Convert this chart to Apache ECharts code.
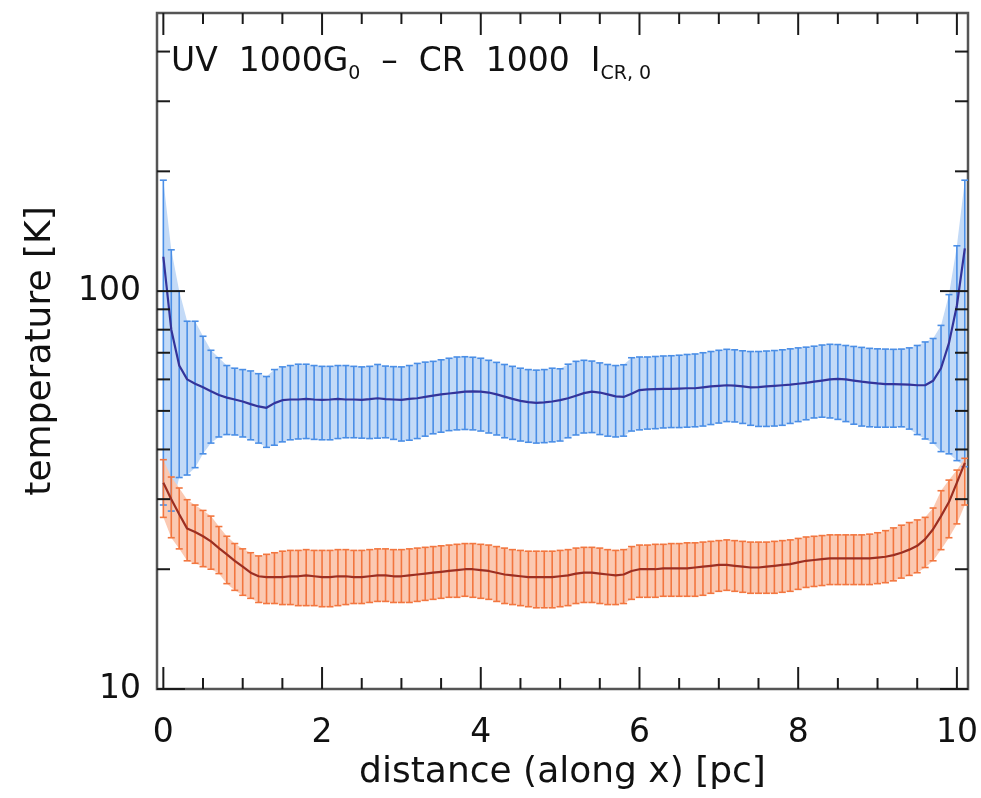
<!DOCTYPE html>
<html><head><meta charset="utf-8">
<script src="https://cdn.jsdelivr.net/npm/echarts@6/dist/echarts.min.js"></script>
<style>html,body{margin:0;padding:0;background:#fff}#c{width:981px;height:798px}</style>
</head><body><div id="c"></div><script>
// distance along x [pc]
const distance = [0,0.1,0.2,0.3,0.4,0.5,0.6,0.7,0.8,0.9,
1,1.1,1.2,1.3,1.4,1.5,1.6,1.7,1.8,1.9,
2,2.1,2.2,2.3,2.4,2.5,2.6,2.7,2.8,2.9,
3,3.1,3.2,3.3,3.4,3.5,3.6,3.7,3.8,3.9,
4,4.1,4.2,4.3,4.4,4.5,4.6,4.7,4.8,4.9,
5,5.1,5.2,5.3,5.4,5.5,5.6,5.7,5.8,5.9,
6,6.1,6.2,6.3,6.4,6.5,6.6,6.7,6.8,6.9,
7,7.1,7.2,7.3,7.4,7.5,7.6,7.7,7.8,7.9,
8,8.1,8.2,8.3,8.4,8.5,8.6,8.7,8.8,8.9,
9,9.1,9.2,9.3,9.4,9.5,9.6,9.7,9.8,9.9,
10,10.1];

// blue (upper) profile: mean, upper and lower error bar ends [K]
const blueMean = [122,80,65,60,58.5,57.3,56,54.8,54,53.4,
52.8,52,51.3,50.9,52.3,53.2,53.4,53.4,53.6,53.4,
53.3,53.4,53.6,53.4,53.4,53.3,53.5,53.8,53.5,53.4,
53.3,53.6,53.8,54.2,54.6,55,55.3,55.6,55.9,56,
55.9,55.6,55,54.3,53.6,53,52.6,52.4,52.5,52.8,
53.2,53.8,54.6,55.4,55.9,55.6,55,54.4,54.2,55.2,
56.4,56.6,56.7,56.8,56.8,56.9,57,57,57.3,57.6,
57.8,58,57.9,57.6,57.3,57.4,57.6,57.8,58,58.2,
58.5,58.8,59.2,59.6,60,60.2,60,59.6,59.2,58.9,
58.6,58.4,58.4,58.3,58.2,58,58,59.5,64,74,
92,128];
const blueUpper = [190,127,100,84,84,77,71,68,65,64,
63.5,63,62,61,63.5,64.5,65,65.5,65.5,65,
64.7,64.7,65,65,64.7,64.5,64.7,65.4,64.8,64.6,
64.5,65,65.8,66.3,66.6,67.2,67.8,68.3,68.4,68.2,
67.8,67,66.2,65.4,64.7,64,63.5,63.3,63.5,64,
63.8,65.5,66.6,67,66.7,66,65.4,65,65.3,68,
68.3,68.3,68.5,68.7,68.8,69,69.3,69.5,70,70.5,
71,71.4,71.2,70.8,70.5,70.5,70.7,70.9,71.2,71.6,
72,72.3,72.7,73.2,73.5,73.4,73,72.6,72.2,71.8,
71.6,71.5,71.4,71.5,72,73,74.5,76,82,98,
130,190];
const blueLower = [29,28,34,34.5,36,39,41.5,43,43.6,43.5,
43,42.3,41.5,40.5,41,41.8,42.3,42.5,42.6,42.4,
42.3,42.3,42.6,42.8,42.8,42.7,42.6,42.7,42.8,42.4,
42,42.2,42.6,43.2,43.8,44.2,44.6,44.8,44.9,44.8,
44.5,44,43.5,42.8,42.4,42,41.7,41.5,41.6,41.8,
42,42.8,43.5,44,44.1,43.6,43.2,43,43.2,44.5,
44.8,45,45.1,45.3,45.4,45.4,45.5,45.6,45.8,46.2,
46.6,47,46.9,46.5,46,45.7,45.7,45.8,46,46.5,
47,47.5,48,48.2,48,47.6,47,46.3,45.8,45.6,
45.5,45.5,45.5,45.6,45,43.6,42.5,41.5,39.5,39,
37.5,36.2];

// orange (lower) profile
const orangeMean = [33,30,27.5,25.3,24.8,24.2,23.5,22.6,21.8,21,
20.3,19.6,19.2,19.1,19.1,19.1,19.2,19.2,19.3,19.2,
19.1,19.1,19.2,19.2,19.1,19.1,19.2,19.3,19.3,19.2,
19.2,19.3,19.4,19.5,19.6,19.7,19.8,19.9,20,20,
19.9,19.8,19.6,19.4,19.3,19.2,19.1,19.1,19.1,19.1,
19.2,19.3,19.5,19.6,19.6,19.5,19.4,19.3,19.4,19.8,
20,20,20,20.1,20.1,20.1,20.1,20.2,20.3,20.4,
20.5,20.5,20.4,20.3,20.2,20.2,20.3,20.4,20.5,20.6,
20.8,21,21.1,21.2,21.3,21.3,21.3,21.3,21.3,21.3,
21.4,21.5,21.7,22,22.4,22.9,23.8,25.2,27.2,29.5,
33,37];
const orangeUpper = [37.7,34.1,32,29.9,29,28.1,27.2,25.6,24.2,23.2,
22.5,22,21.6,21.8,22,22.2,22.3,22.3,22.4,22.3,
22.3,22.3,22.4,22.4,22.3,22.3,22.4,22.5,22.5,22.4,
22.4,22.5,22.6,22.7,22.8,22.9,23,23.1,23.2,23.2,
23.1,23,22.8,22.6,22.4,22.3,22.2,22.2,22.2,22.2,
22.3,22.4,22.6,22.7,22.7,22.6,22.4,22.3,22.4,22.8,
23,23,23.1,23.1,23.2,23.2,23.3,23.3,23.4,23.5,
23.6,23.7,23.6,23.5,23.4,23.4,23.4,23.5,23.6,23.7,
23.9,24.1,24.2,24.3,24.4,24.4,24.4,24.4,24.4,24.5,
24.7,25,25.4,25.8,26.2,26.6,27,28.5,31.5,33.5,
35.5,38];
const orangeLower = [27,24,22.5,21,20.7,20.3,20,19.5,18.4,17.7,
17.2,16.9,16.5,16.4,16.4,16.3,16.3,16.2,16.2,16.2,
16.1,16.1,16.2,16.3,16.4,16.4,16.5,16.6,16.6,16.5,
16.5,16.5,16.6,16.7,16.8,16.9,17,17,17.1,17,
16.9,16.8,16.6,16.4,16.3,16.2,16.1,16,16,16,
16.1,16.2,16.4,16.5,16.5,16.4,16.3,16.3,16.4,16.8,
17,17,17,17.1,17.1,17.1,17.1,17.1,17.2,17.4,
17.6,17.7,17.6,17.5,17.4,17.4,17.4,17.4,17.5,17.6,
17.8,18,18.1,18.2,18.3,18.3,18.3,18.3,18.3,18.3,
18.4,18.5,18.7,19,19.3,19.6,20.2,21,22.4,24,
26,29];

// ticks
const xMajorTicks = [0,2,4,6,8,10];
const xMinorTicks = [0.5,1,1.5,2.5,3,3.5,4.5,5,5.5,6.5,7,7.5,8.5,9,9.5];
const yMajorTicks = [10,100];
const yMinorTicks = [20,30,40,50,60,70,80,90,200,300,400];

const FONT = 'DejaVu Sans';
const chart = echarts.init(document.getElementById('c'), null, {renderer:'canvas'});

function bandSeries(lower, upper, color){
  return {type:'custom', silent:true, z:1, clip:true,
    data: distance.map((x,i)=>[x, lower[i], upper[i]]),
    encode:{x:0, y:[1,2]},
    renderItem(params, api){
      if (params.dataIndex !== 0) return null;
      const pts = [];
      for (let i=0;i<distance.length;i++) pts.push(api.coord([distance[i], upper[i]]));
      for (let i=distance.length-1;i>=0;i--) pts.push(api.coord([distance[i], lower[i]]));
      return {type:'polygon', shape:{points:pts}, style:{fill:color}};
    }};
}
function errSeries(lower, upper, color){
  return {type:'custom', silent:true, z:2, clip:true,
    data: distance.map((x,i)=>[x, lower[i], upper[i]]),
    encode:{x:0, y:[1,2]},
    renderItem(params, api){
      const x = api.value(0);
      const lo = api.coord([x, api.value(1)]);
      const hi = api.coord([x, api.value(2)]);
      const w = 3.5, st = {stroke:color, lineWidth:1.6};
      return {type:'group', children:[
        {type:'line', shape:{x1:lo[0],y1:lo[1],x2:hi[0],y2:hi[1]}, style:st},
        {type:'line', shape:{x1:hi[0]-w,y1:hi[1],x2:hi[0]+w,y2:hi[1]}, style:st},
        {type:'line', shape:{x1:lo[0]-w,y1:lo[1],x2:lo[0]+w,y2:lo[1]}, style:st}
      ]};
    }};
}
function tickSeries(vals, axis, len){
  return {type:'custom', silent:true, z:10, clip:false,
    data: vals.map(v => axis==='x' ? [v, 100] : [1, v]),
    renderItem(params, api){
      const cs = params.coordSys;
      const p = api.coord([api.value(0), api.value(1)]);
      const st = {stroke:'#1a1a1a', lineWidth:2};
      if (axis==='x') {
        const b = cs.y + cs.height, t = cs.y;
        return {type:'group', children:[
          {type:'line', shape:{x1:p[0],y1:b,x2:p[0],y2:b-len}, style:st},
          {type:'line', shape:{x1:p[0],y1:t,x2:p[0],y2:t+len}, style:st}]};
      }
      const l = cs.x, r = cs.x + cs.width;
      return {type:'group', children:[
        {type:'line', shape:{x1:l,y1:p[1],x2:l+len,y2:p[1]}, style:st},
        {type:'line', shape:{x1:r,y1:p[1],x2:r-len,y2:p[1]}, style:st}]};
    }};
}
function meanSeries(vals, color){
  return {type:'line', z:3, showSymbol:false, silent:true, animation:false,
    data: distance.map((x,i)=>[x, vals[i]]),
    lineStyle:{color:color, width:2.2}};
}

chart.setOption({
  animation:false,
  backgroundColor:'#fff',
  grid:{left:157, right:13, top:13, bottom:109, show:true, borderColor:'#555', borderWidth:2.5, backgroundColor:'transparent'},
  title:{left:171, top:48, padding:0,
    text:'{m|UV  1000G}{s|0}{m|  –  CR  1000  I}{s|CR, 0}',
    textStyle:{fontWeight:'normal', rich:{
      m:{fontFamily:FONT, fontSize:33, fontWeight:'normal', color:'#111', lineHeight:36, padding:[0,0,5,0], verticalAlign:'bottom'},
      s:{fontFamily:FONT, fontSize:19, fontWeight:'normal', color:'#111', lineHeight:20, verticalAlign:'bottom'}
    }}},
  xAxis:{type:'value', min:-0.08, max:10.14,
    axisLine:{show:false}, axisTick:{show:false}, splitLine:{show:false},
    axisLabel:{customValues:xMajorTicks, fontFamily:FONT, fontSize:33, color:'#111', margin:28},
    name:'distance (along x) [pc]', nameLocation:'middle', nameGap:66,
    nameTextStyle:{fontFamily:FONT, fontSize:36, color:'#111'}},
  yAxis:{type:'log', logBase:10, min:10, max:500,
    axisLine:{show:false}, axisTick:{show:false}, splitLine:{show:false}, minorTick:{show:false},
    axisLabel:{fontFamily:FONT, fontSize:33, color:'#111', margin:16,
      formatter:v => yMajorTicks.some(t => Math.abs(t - v) < 1e-6) ? String(Math.round(v)) : ''},
    name:'temperature [K]', nameLocation:'middle', nameGap:98,
    nameTextStyle:{fontFamily:FONT, fontSize:36, color:'#111'}},
  series:[
    bandSeries(blueLower, blueUpper, '#c3daf7'),
    bandSeries(orangeLower, orangeUpper, '#fbc9b2'),
    errSeries(blueLower, blueUpper, '#4a8ee6'),
    errSeries(orangeLower, orangeUpper, '#f2763f'),
    meanSeries(blueMean, '#34349a'),
    meanSeries(orangeMean, '#9c2f22'),
    tickSeries(xMajorTicks, 'x', 22),
    tickSeries(xMinorTicks, 'x', 11),
    tickSeries(yMajorTicks, 'y', 28),
    tickSeries(yMinorTicks, 'y', 13)
  ]
});
</script></body></html>
